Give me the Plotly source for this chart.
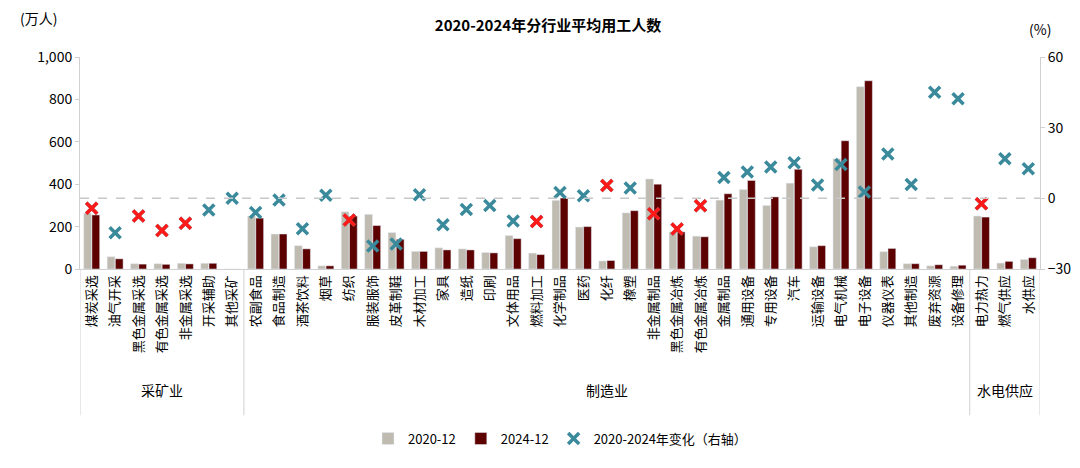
import plotly.graph_objects as go

# industries, grouped
mining = ['煤炭采选', '油气开采', '黑色金属采选', '有色金属采选', '非金属采选', '开采辅助', '其他采矿']
manuf = ['农副食品', '食品制造', '酒茶饮料', '烟草', '纺织', '服装服饰', '皮革制鞋', '木材加工', '家具',
         '造纸', '印刷', '文体用品', '燃料加工', '化学制品', '医药', '化纤', '橡塑', '非金属制品',
         '黑色金属冶炼', '有色金属冶炼', '金属制品', '通用设备', '专用设备', '汽车', '运输设备',
         '电气机械', '电子设备', '仪器仪表', '其他制造', '废弃资源', '设备修理']
utility = ['电力热力', '燃气供应', '水供应']
group_names = ['采矿业', '制造业', '水电供应']
categories = mining + manuf + utility

emp_2020 = [263, 58, 25, 25, 27, 27, 0,
            250, 165, 110, 15, 270, 258, 172, 83, 100, 95, 78, 158, 75, 324, 198, 38, 265, 425,
            175, 155, 325, 375, 300, 405, 105, 520, 860, 82, 25, 15, 13,
            250, 28, 45]
emp_2024 = [255, 48, 23, 22, 24, 27, 0,
            240, 165, 95, 15, 250, 205, 140, 83, 90, 90, 76, 143, 68, 335, 200, 40, 275, 400,
            175, 152, 355, 418, 340, 470, 110, 605, 888, 97, 25, 20, 18,
            245, 36, 53]
change_pct = [-4.2, -14.6, -7.5, -13.7, -10.6, -5.0, 0.0,
              -6.0, -0.7, -12.9, 1.3, -9.2, -20.2, -19.4, 1.5, -11.2, -4.7, -3.0, -9.6, -9.8,
              2.5, 1.1, 5.4, 4.4, -6.5, -13.0, -3.1, 8.8, 11.2, 13.3, 15.1, 5.7, 14.4, 2.7,
              18.8, 5.9, 45.0, 42.3,
              -2.3, 16.8, 12.6]
highlight = ['煤炭采选', '黑色金属采选', '有色金属采选', '非金属采选', '纺织', '燃料加工', '化纤',
             '非金属制品', '黑色金属冶炼', '有色金属冶炼', '电力热力']

hl_x = [c for c in categories if c in highlight]
hl_y = [v for c, v in zip(categories, change_pct) if c in highlight]
font = 'Noto Sans CJK SC, Arial'

fig = go.Figure()
fig.add_trace(go.Bar(name='2020-12', x=categories, y=emp_2020, marker_color='#c0bbb0'))
fig.add_trace(go.Bar(name='2024-12', x=categories, y=emp_2024, marker_color='#5c0000'))
fig.add_trace(go.Scatter(
    name='2020-2024年变化（右轴）', x=categories, y=change_pct, yaxis='y2', mode='markers',
    marker=dict(symbol='x-thin', size=11, line=dict(width=3.5, color='#3a8a9c'))
))
fig.add_trace(go.Scatter(
    x=hl_x, y=hl_y, yaxis='y2', mode='markers', showlegend=False,
    marker=dict(symbol='x-thin', size=11, line=dict(width=3.5, color='#ff1a1a'))
))
fig.add_hline(y=0, yref='y2', line=dict(color='#c8c8c8', width=1.5, dash='dash'))

# group dividers and labels
bounds = [-0.5, len(mining) - 0.5, len(mining) + len(manuf) - 0.5, len(categories) - 0.5]
for b in bounds:
    fig.add_shape(type='line', xref='x', yref='paper', x0=b, x1=b, y0=0, y1=-0.69,
                  line=dict(color='#d0d0d0', width=1))
for i, g in enumerate(group_names):
    fig.add_annotation(x=(bounds[i] + bounds[i + 1]) / 2, y=-0.627, xref='x', yref='paper',
                       text=g, showarrow=False, font=dict(size=14, color='#000'))

fig.add_annotation(x=-0.065, y=1.24, xref='paper', yref='paper', text='(万人)', showarrow=False,
                   xanchor='left', font=dict(size=14, color='#000'))
fig.add_annotation(x=1.0, y=1.19, xref='paper', yref='paper', text='(%)', showarrow=False,
                   xanchor='center', font=dict(size=14, color='#000'))

fig.update_layout(
    width=1080, height=468,
    title=dict(text='<b>2020-2024年分行业平均用工人数</b>', x=0.5, y=0.962, yanchor='middle',
               font=dict(size=15, color='#000')),
    font=dict(family=font, size=13, color='#000'),
    plot_bgcolor='#ffffff', paper_bgcolor='#ffffff',
    margin=dict(l=72, r=48, t=49, b=207),
    barmode='group', bargap=0.3, bargroupgap=0.05,
    legend=dict(orientation='h', x=0.5, xanchor='center', y=-0.8, yanchor='middle',
                font=dict(size=13), traceorder='normal'),
    xaxis=dict(tickangle=-90, showline=True, linecolor='#d0d0d0', ticks='',
               tickfont=dict(size=13), automargin=False, range=[-0.5, len(categories) - 0.5]),
    yaxis=dict(range=[0, 1000], dtick=200, tickformat=',', showgrid=False, showline=True,
               linecolor='#d0d0d0', ticks='outside', ticklen=4, tickcolor='#d0d0d0',
               tickfont=dict(size=14), automargin=False),
    yaxis2=dict(range=[-30, 60], dtick=30, overlaying='y', side='right', showgrid=False,
                showline=True, linecolor='#d0d0d0', ticks='outside', ticklen=4,
                tickcolor='#d0d0d0', zeroline=False, tickfont=dict(size=14), automargin=False),
)
fig.write_html('out.html')
